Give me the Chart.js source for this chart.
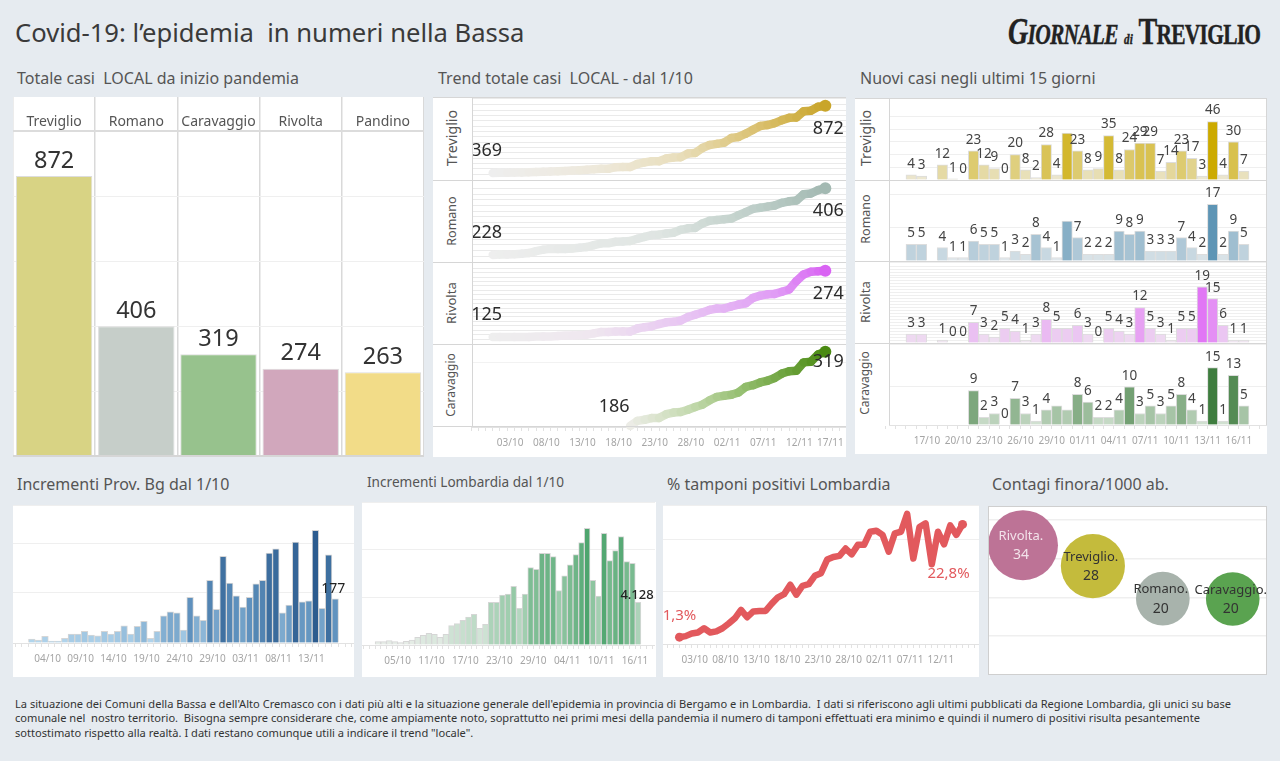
<!DOCTYPE html>
<html lang="it">
<head>
<meta charset="utf-8">
<title>Covid-19: l'epidemia in numeri nella Bassa</title>
<script src="https://cdn.jsdelivr.net/npm/chart.js@4"></script>
<style>
  html, body { margin: 0; padding: 0; background: #e6ebf0; }
  body { width: 1280px; height: 761px; position: relative; overflow: hidden; font-family: "Noto Sans", sans-serif; color: #444; }
  .testo { position: absolute; white-space: pre; line-height: 1; }
  .titolo { left: 15px; top: 20px; font-size: 25.6px; color: #3a3a3a; }
  .sotto { font-size: 16px; color: #555; }
  .nota { left: 15px; font-size: 11.1px; color: #333; }
  .pannello { position: absolute; background: #fff; overflow: hidden; }
  .pannello canvas { position: absolute; display: block; }
  .cella { position: absolute; background: #fff; }
  .cella span { position: absolute; transform: translate(-50%, -50%) rotate(-90deg); white-space: pre; color: #555; }
  .riga { position: absolute; background: #d6d6d6; }
  #logo { position: absolute; left: 1008px; top: 9px; font: bold 38px "Liberation Serif", serif; color: #222; white-space: pre; transform-origin: left top; transform: scaleX(.74); letter-spacing: -1px; -webkit-text-stroke: .4px #222; }
  #logo small { font-size: 29px; }
  #logo em { font-style: italic; }
  #logo i { font-size: 15px; letter-spacing: 0; }
</style>
</head>
<body>
<div class="testo titolo">Covid-19: l’epidemia  in numeri nella Bassa</div>
<div id="logo"><em>G<small>IORNALE</small></em> <i>di</i> T<small>REVIGLIO</small></div>
<div class="testo sotto" style="left:17px;top:70px">Totale casi  LOCAL da inizio pandemia</div>
<div class="testo sotto" style="left:438px;top:70px">Trend totale casi  LOCAL - dal 1/10</div>
<div class="testo sotto" style="left:860px;top:70px">Nuovi casi negli ultimi 15 giorni</div>
<div class="testo sotto" style="left:17px;top:476px">Incrementi Prov. Bg dal 1/10</div>
<div class="testo sotto" style="left:367px;top:475px;font-size:13.6px">Incrementi Lombardia dal 1/10</div>
<div class="testo sotto" style="left:667px;top:476px">% tamponi positivi Lombardia</div>
<div class="testo sotto" style="left:992px;top:476px">Contagi finora/1000 ab.</div>
<div class="testo nota" style="top:698px">La situazione dei Comuni della Bassa e dell'Alto Cremasco con i dati più alti e la situazione generale dell'epidemia in provincia di Bergamo e in Lombardia.  I dati si riferiscono agli ultimi pubblicati da Regione Lombardia, gli unici su base</div>
<div class="testo nota" style="top:712px">comunale nel  nostro territorio.  Bisogna sempre considerare che, come ampiamente noto, soprattutto nei primi mesi della pandemia il numero di tamponi effettuati era minimo e quindi il numero di positivi risulta pesantemente</div>
<div class="testo nota" style="top:727px">sottostimato rispetto alla realtà. I dati restano comunque utili a indicare il trend "locale".</div>

<script>
// ---- dati ----
const comuni = ["Treviglio", "Romano", "Caravaggio", "Rivolta", "Pandino"];
const totaliComuni = [872, 406, 319, 274, 263];
const coloriComuni = ["#d8d384", "#c6cec9", "#97c28d", "#d1a7bc", "#f2dc88"];

// asse dei giorni per i grafici dal 1/10 (con margine prima e dopo)
const giorni = ["28/09","29/09","30/09",
  "01/10","02/10","03/10","04/10","05/10","06/10","07/10","08/10","09/10","10/10","11/10","12/10","13/10","14/10","15/10","16/10",
  "17/10","18/10","19/10","20/10","21/10","22/10","23/10","24/10","25/10","26/10","27/10","28/10","29/10","30/10","31/10",
  "01/11","02/11","03/11","04/11","05/11","06/11","07/11","08/11","09/11","10/11","11/11","12/11","13/11","14/11","15/11","16/11","17/11","18/11","19/11"];

const trendTreviglio = [null,null,null,369,370,371,372,373,375,376,378,380,381,384,387,390,393,397,400,400,412,413,413,436,448,457,457,477,485,487,515,519,556,579,587,596,631,639,663,692,721,728,742,765,782,785,831,835,865,872,null,null,null];
const trendRomano = [null,null,null,228,229,229,230,231,233,238,242,244,244,244,245,247,249,254,259,259,263,264,265,271,276,281,282,285,287,295,299,300,312,319,321,323,325,334,342,351,354,357,360,367,371,373,390,392,401,406,null,null,null];
const trendRivolta = [null,null,null,125,125,125,125,125,125,126,126,126,127,128,128,129,130,133,136,136,137,137,137,144,147,149,154,158,159,162,170,175,180,186,189,189,194,198,201,213,218,221,222,227,232,251,266,272,273,274,null,null,null];
const trendCaravaggio = [null,null,null,null,null,null,null,null,null,null,null,null,null,null,null,null,null,null,null,null,null,null,186,195,197,200,200,207,210,211,215,220,224,232,238,240,242,246,256,259,264,267,272,280,284,285,300,301,314,319,null,null,null];
const tickTrend = ["03/10","08/10","13/10","18/10","23/10","28/10","02/11","07/11","12/11","17/11"];

const giorniNuovi = ["12/10","13/10","14/10","15/10","16/10","17/10","18/10","19/10","20/10","21/10","22/10","23/10","24/10","25/10","26/10","27/10","28/10","29/10","30/10","31/10",
  "01/11","02/11","03/11","04/11","05/11","06/11","07/11","08/11","09/11","10/11","11/11","12/11","13/11","14/11","15/11","16/11","17/11","18/11","19/11"];
const nuoviTreviglio = [null,null,null,4,3,null,12,1,0,23,12,9,0,20,8,2,28,4,37,23,8,9,35,8,24,29,29,7,14,23,17,3,46,4,30,7,null,null,null];
const nuoviRomano = [null,null,null,5,5,null,4,1,1,6,5,5,1,3,2,8,4,1,12,7,2,2,2,9,8,9,3,3,3,7,4,2,17,2,9,5,null,null,null];
const nuoviRivolta = [null,null,null,3,3,null,1,0,0,7,3,2,5,4,1,3,8,5,5,6,3,0,5,4,3,12,5,3,1,5,5,19,15,6,1,1,null,null,null];
const nuoviCaravaggio = [null,null,null,null,null,null,null,null,null,9,2,3,0,7,3,1,4,5,4,8,6,2,2,4,10,3,5,3,5,8,4,1,15,1,13,5,null,null,null];
const tickNuovi = ["17/10","20/10","23/10","26/10","29/10","01/11","04/11","07/11","10/11","13/11","16/11"];

const incrementiBg = [null,null,null,16,12,27,8,8,19,36,36,47,32,29,47,36,47,69,36,67,87,19,47,109,125,121,52,183,109,91,251,135,347,240,189,144,183,237,251,360,377,121,152,404,165,169,451,139,353,177,null,null,null];
const tickBg = ["04/10","09/10","14/10","19/10","24/10","29/10","03/11","08/11","13/11"];

const incrementiLombardia = [null,null,null,322,322,419,322,226,355,484,742,935,1129,1032,742,1032,1871,2065,2387,2710,2968,1613,2000,4129,4129,4839,4936,5678,3548,4936,7484,7323,8871,8871,8549,5258,6678,7742,8742,9903,11291,6258,4742,10807,8162,9129,10484,8065,7903,4128,null,null,null];
const tickLombardia = ["05/10","11/10","17/10","23/10","29/10","04/11","10/11","16/11"];

const tamponiPositivi = [null,null,null,1.3,1.5,2.0,2.2,3.0,2.2,2.4,3.0,3.9,4.9,6.5,5.1,6.2,6.3,6.3,7.7,8.9,9.5,11.3,9.4,11.1,11.4,13.0,13.5,16.1,16.6,16.8,18.2,17.1,18.9,18.9,21.4,21.6,20.8,17.6,21.1,21.4,24.8,16.3,22.3,23.0,15.2,21.4,19.0,22.6,20.8,22.8,null,null,null];
const tickTamponi = ["03/10","08/10","13/10","18/10","23/10","28/10","02/11","07/11","12/11"];

const comuniContagi = ["Rivolta.", "Treviglio.", "Romano.", "Caravaggio."];
const contagi = [33.5, 28.1, 19.7, 19.6];
const coloriContagi = ["#bd7396", "#c4bb3c", "#a8b3ac", "#5aa350"];
const testoContagi = ["#f3e3ea", "#333333", "#333333", "#333333"];

// ---- aiuti ----
Chart.defaults.font.family = '"Noto Sans", sans-serif';
Chart.defaults.animation = false;

const GRIGIO_TICK = "#a5a5a5";
const COL_GRID = "#efefef";
const COL_STRISCE = "#eaeaea";

function rgb(hex) {
  return [1, 3, 5].map((i) => parseInt(hex.slice(i, i + 2), 16));
}

// colore lungo una scala di tappe [t, colore]
function scala(tappe, t) {
  for (let i = 1; i < tappe.length; i++) {
    if (t <= tappe[i][0]) {
      const k = (t - tappe[i - 1][0]) / (tappe[i][0] - tappe[i - 1][0]);
      const a = rgb(tappe[i - 1][1]);
      const b = rgb(tappe[i][1]);
      return `rgb(${a.map((v, j) => Math.round(v + (b[j] - v) * k)).join(",")})`;
    }
  }
  return tappe[tappe.length - 1][1];
}

function pannello(x, y, w, h) {
  const div = document.createElement("div");
  div.className = "pannello";
  div.style.cssText = `left:${x}px;top:${y}px;width:${w}px;height:${h}px;`;
  div.dataset.x = x;
  div.dataset.y = y;
  document.body.appendChild(div);
  return div;
}

function tela(p, x, y, w, h) {
  const c = document.createElement("canvas");
  c.width = w;
  c.height = h;
  c.style.cssText = `left:${x - p.dataset.x}px;top:${y - p.dataset.y}px;width:${w}px;height:${h}px;`;
  p.appendChild(c);
  return c;
}

// cella bianca con il nome del comune ruotato
function cella(p, testo, x, y, w, h, cx, cy, corpo) {
  const d = document.createElement("div");
  d.className = "cella";
  d.style.cssText = `left:${x - p.dataset.x}px;top:${y - p.dataset.y}px;width:${w}px;height:${h}px;`;
  const s = document.createElement("span");
  s.textContent = testo;
  s.style.left = cx - x + "px";
  s.style.top = cy - y + "px";
  s.style.fontSize = corpo + "px";
  d.appendChild(s);
  p.appendChild(d);
}

function riga(p, x, y, w, h, colore) {
  const d = document.createElement("div");
  d.className = "riga";
  d.style.cssText = `left:${x - p.dataset.x}px;top:${y - p.dataset.y}px;width:${w}px;height:${h}px;` + (colore ? `background:${colore};` : "");
  p.appendChild(d);
}

function baseOpzioni(scales) {
  return {
    responsive: false,
    animation: false,
    layout: { padding: 0, autoPadding: false },
    plugins: { legend: { display: false }, tooltip: { enabled: false } },
    scales,
  };
}

function asseY(min, max, passo, coloreGrid) {
  return {
    min,
    max,
    ticks: { display: false, stepSize: passo },
    grid: { drawTicks: false, color: coloreGrid || COL_GRID },
    border: { display: false },
  };
}

function asseX(daMostrare, spostamento) {
  if (!daMostrare) return { display: false, offset: false };
  return {
    offset: false,
    afterFit(scale) {
      scale.height = 30;
      // niente margine laterale: le righe restano allineate a quelle senza asse
      scale.paddingLeft = 0;
      scale.paddingRight = 0;
    },
    grid: { drawOnChartArea: false, tickLength: 4, color: "#e2e2e2" },
    border: { color: "#e2e2e2" },
    ticks: {
      autoSkip: false,
      maxRotation: 0,
      padding: 6,
      labelOffset: spostamento,
      color: GRIGIO_TICK,
      font: { size: 10 },
      callback(v) {
        const lab = this.getLabelForValue(v);
        if (!daMostrare.includes(lab)) return "";
        // l'ultima data del trend sta a filo del pannello: gli spazi la spostano a sinistra
        return lab === "17/11" ? lab + "    " : lab;
      },
    },
  };
}

// scrive il valore sopra ogni barra, tranne quelli che nell'originale non compaiono
function pluginBarre(font, colore, distanza, nascosti, etichette) {
  return {
    id: "valoriBarre",
    afterDatasetsDraw(chart) {
      const c = chart.ctx;
      const ds = chart.data.datasets[0];
      c.save();
      c.font = font;
      c.fillStyle = colore;
      c.textAlign = "center";
      c.textBaseline = "middle";
      chart.getDatasetMeta(0).data.forEach((barra, i) => {
        if (ds.data[i] == null) return;
        if (nascosti && nascosti.includes(etichette[i])) return;
        c.fillText(String(ds.data[i]), barra.x, barra.y - distanza);
      });
      c.restore();
    },
  };
}

// etichette del primo e dell'ultimo punto di una linea
function pluginEstremi(font, colore, primo, ultimo, formato) {
  return {
    id: "estremi",
    afterDatasetsDraw(chart) {
      const c = chart.ctx;
      const ds = chart.data.datasets[0];
      const punti = chart.getDatasetMeta(0).data;
      const indici = ds.data.map((v, i) => (v == null ? -1 : i)).filter((i) => i >= 0);
      c.save();
      c.font = font;
      c.fillStyle = colore;
      c.textAlign = "center";
      c.textBaseline = "middle";
      [[indici[0], primo], [indici[indici.length - 1], ultimo]].forEach(([i, off]) => {
        const testo = formato ? formato(ds.data[i]) : String(ds.data[i]);
        c.fillText(testo, punti[i].x + off[0], punti[i].y + off[1]);
      });
      c.restore();
    },
  };
}

function lineaSfumata(canvas, dati, tappe, max, min, passo, ticks, primo, ultimo, coloreGrid) {
  const validi = dati.map((v, i) => (v == null ? -1 : i)).filter((i) => i >= 0);
  const da = validi[0];
  const a = validi[validi.length - 1];
  return new Chart(canvas, {
    type: "line",
    data: {
      labels: giorni,
      datasets: [{
        data: dati,
        borderWidth: 8.5,
        borderCapStyle: "round",
        borderJoinStyle: "round",
        borderColor: tappe[tappe.length - 1][1],
        tension: 0,
        segment: { borderColor: (ctx) => scala(tappe, (ctx.p0DataIndex - da) / (a - da)) },
        pointRadius: (ctx) => (ctx.dataIndex === a ? 6 : 0),
        pointBackgroundColor: tappe[tappe.length - 1][1],
        pointBorderWidth: 0,
        clip: false,
      }],
    },
    options: baseOpzioni({ x: asseX(ticks, 3), y: asseY(min, max, passo, coloreGrid) }),
    plugins: [pluginEstremi("18px 'Noto Sans'", "#2b2b2b", primo, ultimo)],
  });
}

function barreNuovi(canvas, dati, tappe, max, passo, ticks, nascosti) {
  const top = Math.max(...dati.filter((v) => v != null));
  return new Chart(canvas, {
    type: "bar",
    data: {
      labels: giorniNuovi,
      datasets: [{
        data: dati,
        barThickness: 10.4,
        backgroundColor: dati.map((v) => (v == null ? "#fff" : scala(tappe, v / top))),
        borderColor: "#dddddd",
        borderWidth: 1,
      }],
    },
    options: baseOpzioni({ x: asseX(ticks, -5), y: asseY(0, max, passo) }),
    plugins: [pluginBarre("13.5px 'Noto Sans'", "#444", 11, nascosti, giorniNuovi)],
  });
}

function barreIncrementi(canvas, dati, tappe, max, passo, ticks, spessore, spostamento, fontUltimo, offUltimo, testoUltimo) {
  const top = Math.max(...dati.filter((v) => v != null));
  const ultimoIdx = dati.map((v, i) => (v == null ? -1 : i)).filter((i) => i >= 0).pop();
  return new Chart(canvas, {
    type: "bar",
    data: {
      labels: giorni,
      datasets: [{
        data: dati,
        barThickness: spessore,
        backgroundColor: dati.map((v) => (v == null ? "#fff" : scala(tappe, v / top))),
        borderColor: "#d6d6d6",
        borderWidth: 1,
      }],
    },
    options: baseOpzioni({ x: asseX(ticks, spostamento), y: asseY(0, max, passo) }),
    plugins: [{
      id: "ultimoValore",
      afterDatasetsDraw(chart) {
        const c = chart.ctx;
        const b = chart.getDatasetMeta(0).data[ultimoIdx];
        c.save();
        c.font = fontUltimo;
        c.fillStyle = "#222";
        c.textAlign = "center";
        c.textBaseline = "middle";
        c.fillText(testoUltimo, b.x + offUltimo[0], b.y + offUltimo[1]);
        c.restore();
      },
    }],
  });
}

// ---- Totale casi ----
const p1 = pannello(13, 97, 411, 360);
new Chart(tela(p1, 13, 97, 411, 360), {
  type: "bar",
  data: {
    labels: comuni,
    datasets: [{
      data: totaliComuni,
      backgroundColor: coloriComuni,
      borderColor: "#dddddd",
      borderWidth: 1,
      barPercentage: 0.93,
      categoryPercentage: 1,
    }],
  },
  options: baseOpzioni({
    x: {
      position: "top",
      afterFit(scale) { scale.height = 34; },
      grid: { color: "#d9d9d9", lineWidth: 1.5, tickLength: 34 },
      border: { color: "#dcdcdc", width: 2 },
      ticks: { padding: -33, maxRotation: 0, autoSkip: false, color: "#555", font: { size: 14 } },
    },
    y: { min: 0, max: 1012, ticks: { display: false, stepSize: 200 }, grid: { drawTicks: false, color: COL_GRID }, border: { display: false } },
  }),
  plugins: [pluginBarre("23.5px 'Noto Sans'", "#333", 15)],
});
riga(p1, 13, 455, 411, 2);

// ---- Trend totale casi ----
const p2 = pannello(433, 97, 413, 360);
lineaSfumata(tela(p2, 471, 98, 376, 82), trendTreviglio,
  [[0, "#eeeeee"], [0.3, "#eee9dc"], [0.55, "#e9dfbe"], [0.8, "#dac06e"], [1, "#c9a52a"]],
  931, 316, 40, null, [-6, -22], [3, 23], COL_STRISCE);
lineaSfumata(tela(p2, 471, 180, 376, 82), trendRomano,
  [[0, "#eeeeee"], [0.5, "#dfe5e2"], [0.8, "#bccdc7"], [1, "#a3b9b2"]],
  428, 209, 15, null, [-6, -22], [3, 23], COL_STRISCE);
lineaSfumata(tela(p2, 471, 262, 376, 82), trendRivolta,
  [[0, "#eeeeee"], [0.3, "#efe7ef"], [0.6, "#e7c2f3"], [0.85, "#e09cf5"], [1, "#d963f3"]],
  294, 109, 10, null, [-6, -22], [3, 23], COL_STRISCE);
lineaSfumata(tela(p2, 471, 344, 376, 113), trendCaravaggio,
  [[0, "#ecece6"], [0.3, "#c5dab0"], [0.6, "#8fbb68"], [1, "#4a8a12"]],
  333, 184, 100, tickTrend, [-16, -19], [3, 10], "#f2f2f2");
[["Treviglio", 98, 137.5, 451, 14.3], ["Romano", 180, 220.5, 451, 12.5], ["Rivolta", 262, 302.5, 451, 13.2], ["Caravaggio", 344, 385, 450, 12]].forEach(([nome, y, cy, cx, corpo]) => {
  cella(p2, nome, 433, y, 39, 82, cx, cy, corpo);
});
riga(p2, 433, 97, 413, 1);
riga(p2, 433, 180, 413, 1);
riga(p2, 433, 262, 413, 1);
riga(p2, 433, 344, 413, 1);
riga(p2, 433, 426, 413, 1);
riga(p2, 472, 97, 1, 330);

// ---- Nuovi casi ----
const p3 = pannello(855, 98, 412, 356);
barreNuovi(tela(p3, 880, 98, 395, 82), nuoviTreviglio, [[0, "#eeebdf"], [1, "#ccaa00"]], 64.6, 10, null, ["30/10"]);
barreNuovi(tela(p3, 880, 180, 395, 81), nuoviRomano, [[0, "#e8ecee"], [1, "#5e95b5"]], 24.3, 10, null, ["30/10"]);
barreNuovi(tela(p3, 880, 262, 395, 81), nuoviRivolta, [[0, "#f0ebf0"], [1, "#e176f5"]], 27.4, 1, null, ["30/10"]);
barreNuovi(tela(p3, 880, 344, 395, 111), nuoviCaravaggio, [[0, "#dae7da"], [1, "#3f7d3f"]], 21.2, 10, tickNuovi, ["29/10", "30/10"]);
[["Treviglio", 98, 138, 865, 14.3], ["Romano", 180, 219, 865, 12.5], ["Rivolta", 262, 301.5, 865, 13.2], ["Caravaggio", 344, 383, 864, 12]].forEach(([nome, y, cy, cx, corpo]) => {
  cella(p3, nome, 855, y, 34, 82, cx, cy, corpo);
});
riga(p3, 855, 98, 412, 1);
riga(p3, 855, 180, 412, 1);
riga(p3, 855, 261, 412, 1);
riga(p3, 855, 343, 412, 1);
riga(p3, 889, 98, 1, 327);
riga(p3, 1266, 98, 1, 327);

// ---- Incrementi ----
const p4 = pannello(13, 505, 341, 172);
barreIncrementi(tela(p4, 12, 505, 343, 168), incrementiBg, [[0, "#b9dbf0"], [0.4, "#5f92be"], [1, "#2c5c8f"]], 552, 200, tickBg, 6.6, -4, "14px 'Noto Sans'", [-2, -10], "177");

const p5 = pannello(362, 502, 294, 175);
barreIncrementi(tela(p5, 361, 502, 294, 173), incrementiLombardia, [[0, "#ebefeb"], [0.5, "#95c9a6"], [1, "#4ea56e"]], 13830, 5000, tickLombardia, 5.7, -3, "500 13px 'Noto Sans'", [-1, -7], "4.128");

// ---- Tamponi positivi ----
const p6 = pannello(663, 505, 316, 172);
new Chart(tela(p6, 661, 505, 320, 169), {
  type: "line",
  data: {
    labels: giorni,
    datasets: [{
      data: tamponiPositivi,
      borderColor: "#e2595d",
      borderWidth: 6.5,
      borderJoinStyle: "round",
      tension: 0,
      pointRadius: (ctx) => (ctx.dataIndex === 3 || ctx.dataIndex === 49 ? 4.5 : 0),
      pointBackgroundColor: "#e2595d",
      pointBorderWidth: 0,
    }],
  },
  options: baseOpzioni({ x: asseX(tickTamponi, 3), y: asseY(0, 26.5, 10) }),
  plugins: [pluginEstremi("15px 'Noto Sans'", "#e2595d", [0, -21], [-14, 49], (v) => v.toFixed(1).replace(".", ",") + "%")],
});

// ---- Contagi ----
const p7 = pannello(988, 506, 279, 169);
new Chart(tela(p7, 988, 506, 279, 169), {
  type: "bubble",
  data: {
    datasets: [{
      data: contagi.map((v, i) => ({ x: i, y: v })),
      backgroundColor: coloriContagi,
      borderWidth: 0,
      radius: (ctx) => Math.sqrt(ctx.raw.y) * 6.05,
      hoverRadius: 0,
      clip: false,
    }],
  },
  options: baseOpzioni({
    x: { display: false, min: -0.5, max: 3.49 },
    y: { min: 0, max: 43.6, ticks: { display: false, stepSize: 10 }, grid: { drawTicks: false, color: COL_GRID, lineWidth: 1.5 }, border: { display: false } },
  }),
  plugins: [{
    id: "nomiBolle",
    afterDatasetsDraw(chart) {
      const c = chart.ctx;
      c.save();
      c.textAlign = "center";
      c.textBaseline = "middle";
      chart.getDatasetMeta(0).data.forEach((b, i) => {
        c.fillStyle = testoContagi[i];
        c.font = "13px 'Noto Sans'";
        c.fillText(comuniContagi[i], b.x - 2, b.y - 9);
        c.font = "14px 'Noto Sans'";
        c.fillText(String(Math.round(contagi[i])), b.x - 2, b.y + 10);
      });
      c.restore();
    },
  }],
});
riga(p7, 988, 506, 279, 1, "#cfcfcf");
riga(p7, 988, 674, 279, 1, "#cfcfcf");
riga(p7, 988, 506, 1, 169, "#cfcfcf");
riga(p7, 1266, 506, 1, 169, "#cfcfcf");
</script>
</body>
</html>
